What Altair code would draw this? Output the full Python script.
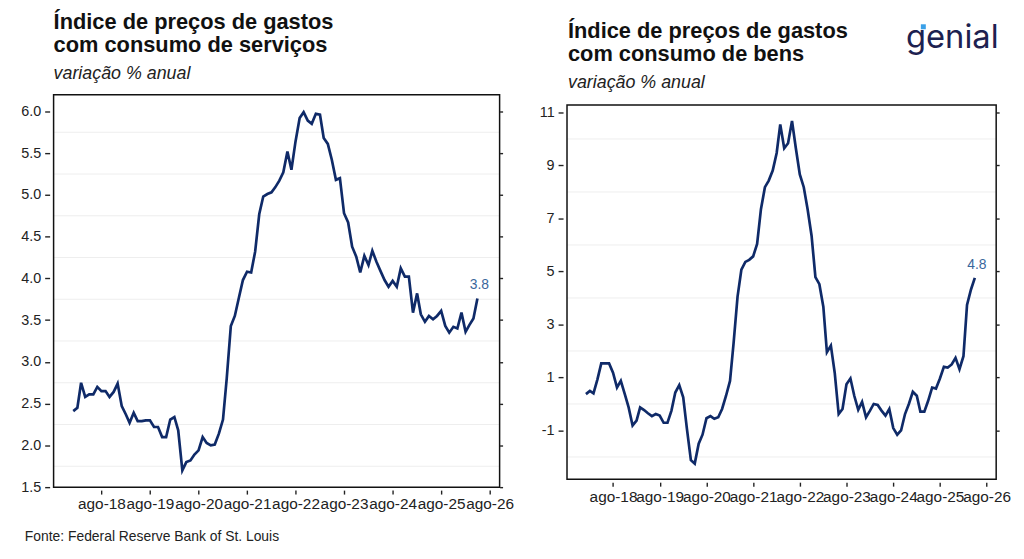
import altair as alt
import pandas as pd

# ---------------- data (monthly, Jan 2018 onwards) ----------------
dates = pd.date_range("2018-01-01", periods=101, freq="MS").strftime("%Y-%m-%d").tolist()

servicos = [2.41, 2.45, 2.75, 2.58, 2.61, 2.61, 2.70, 2.65, 2.65, 2.58, 2.64, 2.74,
            2.47, 2.37, 2.27, 2.39, 2.29, 2.29, 2.30, 2.30, 2.22, 2.22, 2.10, 2.10,
            2.31, 2.34, 2.18, 1.70, 1.80, 1.82, 1.89, 1.94, 2.10, 2.03, 2.00, 2.01,
            2.14, 2.31, 2.80, 3.43, 3.55, 3.77, 3.98, 4.08, 4.07, 4.32, 4.77, 4.98,
            5.01, 5.03, 5.09, 5.17, 5.27, 5.52, 5.30, 5.64, 5.92, 5.99, 5.89, 5.85,
            5.97, 5.96, 5.68, 5.61, 5.42, 5.18, 5.20, 4.78, 4.67, 4.38, 4.26, 4.07,
            4.27, 4.16, 4.33, 4.20, 4.09, 3.98, 3.90, 3.97, 3.90, 4.12, 4.02, 4.02,
            3.59, 3.82, 3.57, 3.48, 3.55, 3.51, 3.55, 3.61, 3.43, 3.35, 3.42, 3.40,
            3.59, 3.36, 3.44, 3.52, 3.76]

bens = [0.37, 0.49, 0.40, 0.93, 1.53, 1.53, 1.53, 1.18, 0.62, 0.87, 0.37, -0.13,
        -0.81, -0.63, -0.13, -0.23, -0.35, -0.46, -0.38, -0.44, -0.71, -0.71, -0.25, 0.43,
        0.71, 0.25, -0.94, -2.12, -2.25, -1.50, -1.16, -0.54, -0.46, -0.56, -0.50, -0.19,
        0.31, 0.87, 2.30, 4.05, 5.07, 5.36, 5.44, 5.57, 6.04, 7.35, 8.18, 8.43,
        8.81, 9.47, 10.55, 9.65, 9.84, 10.68, 9.65, 8.66, 8.18, 7.35, 6.35, 4.79,
        4.52, 3.67, 1.95, 2.20, 1.18, -0.38, -0.19, 0.74, 0.96, 0.31, -0.22, 0.08,
        -0.50, -0.25, 0.00, -0.04, -0.25, -0.44, -0.19, -0.91, -1.16, -1.00, -0.38, 0.00,
        0.46, 0.31, -0.29, -0.29, 0.12, 0.62, 0.58, 0.96, 1.40, 1.37, 1.49, 1.74,
        1.31, 1.80, 3.74, 4.32, 4.76]

tick_years = [2018, 2019, 2020, 2021, 2022, 2023, 2024, 2025, 2026]
serv_major = [1.5, 2.0, 2.5, 3.0, 3.5, 4.0, 4.5, 5.0, 5.5, 6.0]
serv_minor = [1.75, 2.25, 2.75, 3.25, 3.75, 4.25, 4.75, 5.25, 5.75]
bens_major = [-1, 1, 3, 5, 7, 9, 11]
bens_minor = [-2, 0, 2, 4, 6, 8, 10]

title_serv = ["Índice de preços de gastos", "com consumo de serviços"]
title_bens = ["Índice de preços de gastos", "com consumo de bens"]
subtitle = "variação % anual"
footer = "Fonte: Federal Reserve Bank of St. Louis"
logo = "genial"

LINE = "#0f2a68"
FONT = "Liberation Sans"
TXT = "#222222"
FRAME = "#111111"


def label(text, x, y, size, weight="normal", style="normal", color=TXT, font=FONT):
    return alt.Chart(pd.DataFrame({"t": [text]})).mark_text(
        align="left", baseline="alphabetic", font=font, fontSize=size,
        fontWeight=weight, fontStyle=style, color=color).encode(
        x=alt.value(x), y=alt.value(y), text="t:N")


def panel(values, major, minor, ydom, yfmt, width, height, top, title_lines, tx, ty, extras):
    df = pd.DataFrame({"date": dates, "v": values})
    yscale = alt.Scale(domain=ydom, nice=False, zero=False, range=[height, top])
    x = alt.X(
        "date:T",
        scale=alt.Scale(domain=[alt.DateTime(year=2017, month=8, date=6),
                                alt.DateTime(year=2026, month=10, date=15)]),
        axis=alt.Axis(values=[alt.DateTime(year=y, month=8, date=1) for y in tick_years],
                      labelExpr="'ago-' + timeFormat(datum.value, '%y')",
                      title=None, grid=False, domain=False, tickSize=4, tickColor=TXT,
                      tickWidth=1.4, offset=3, labelFontSize=15.5, labelColor=TXT,
                      labelPadding=3, labelFont=FONT, labelOverlap=False, labelFlush=False),
    )
    grid = alt.Chart(pd.DataFrame({"g": minor})).mark_rule(
        color="#eeeeee", strokeWidth=1).encode(y=alt.Y("g:Q", scale=yscale, axis=None))
    frame = alt.Chart(pd.DataFrame({"g": [0]})).mark_rect(
        fillOpacity=0, stroke=FRAME, strokeWidth=1.5).encode(
        x=alt.value(0), x2=alt.value(width), y=alt.value(top), y2=alt.value(height))
    line = alt.Chart(df).mark_line(color=LINE, strokeWidth=2.7).encode(
        x=x,
        y=alt.Y("v:Q", scale=yscale,
                axis=alt.Axis(orient="left", values=major, labelExpr=yfmt, title=None,
                              grid=False, domain=False, tickSize=5, tickWidth=1.4, offset=4,
                              tickColor=TXT, labelFontSize=14.5, labelColor=TXT,
                              labelPadding=4, labelFont=FONT)),
    )
    last = alt.Chart(df.tail(1)).mark_text(
        color="#3a679c", fontSize=14, font=FONT, dy=-13, dx=2).encode(
        x=x,
        y=alt.Y("v:Q", scale=yscale,
                axis=alt.Axis(orient="right", values=major, labels=False, title=None,
                              grid=False, domain=False, tickSize=3, tickWidth=1.4,
                              tickColor=TXT)),
        text=alt.Text("v:Q", format=".1f"),
    )
    titles = [
        label(title_lines[0], tx, ty, 22, weight="bold", color="#111111"),
        label(title_lines[1], tx, ty + 23.4, 22, weight="bold", color="#111111"),
        label(subtitle, tx, ty + 50.5, 18, style="italic"),
    ]
    return alt.layer(grid, frame, line, last, *titles, *extras).properties(
        width=width, height=height)


foot = label(footer, -29, 450, 14)
logo_txt = label(logo, 342, -46.7, 33, weight=400, color="#1d2150", font="Inter")
logo_acc = alt.Chart(pd.DataFrame({"t": [logo]})).mark_rect(color="#3aa0e8").encode(
    x=alt.value(357), x2=alt.value(362), y=alt.value(-71), y2=alt.value(-66))

left = panel(servicos, serv_major, serv_minor, [1.5, 6.2], "format(datum.value, '.1f')",
             450, 396, 0, title_serv, 0, -66, [foot])
right = panel(bens, bens_major, bens_minor, [-2.84, 11.28], "toString(datum.value)",
              433, 388, 10.5, title_bens, 1, -57, [logo_txt, logo_acc])

chart = alt.hconcat(left, right, spacing=24).properties(
    padding={"left": 12, "top": 1, "right": 5, "bottom": 5}, background="white"
).configure_view(strokeOpacity=0)

chart.save("out.html", embed_options={"renderer": "svg", "actions": False})
